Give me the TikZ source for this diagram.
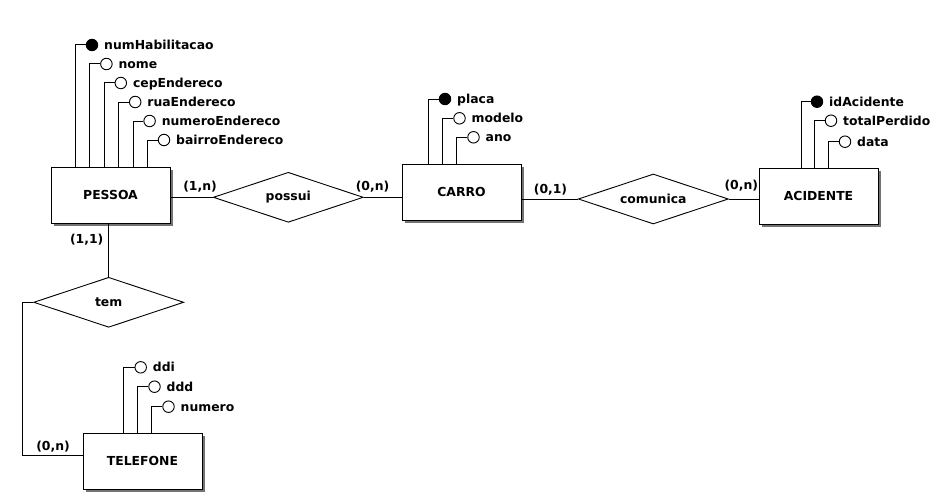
\documentclass[tikz,border=0pt]{standalone}
\usepackage{fontspec}
\setmainfont{DejaVu Sans}
\usetikzlibrary{shapes.geometric,positioning,calc,shadows}
\tikzset{ent/.style={draw,line width=1pt,fill=white,minimum width=119pt,minimum height=56pt,inner sep=0pt,
  drop shadow={shadow xshift=2.5pt,shadow yshift=-2.5pt,fill=black!55,opacity=1}},
rel/.style={diamond,aspect=3,draw,line width=0.9pt,fill=white,minimum width=150pt,minimum height=50pt,inner sep=0pt},
att/.style={circle,draw,line width=0.9pt,fill=white,minimum size=11.5pt,inner sep=0pt},
pk/.style={att,fill=black},
lbl/.style={inner sep=0pt,text height=8.9pt,text depth=0pt},
card/.style={inner sep=0pt}}

\begin{document}
\begin{tikzpicture}[x=1pt,y=-1pt,line width=1pt,font=\fontsize{12.4}{14}\selectfont\bfseries]
\useasboundingbox (0,0) rectangle (940,495);

% entidades e relacionamentos
\node[ent] (pessoa) at (110.5,195) {PESSOA};
\node[ent] (carro) at (461.5,192) {CARRO};
\node[ent] (acidente) at (818.5,196) {ACIDENTE};
\node[ent] (telefone) at (142.5,461) {TELEFONE};
\node[rel] (possui) at (288.3,197.3) {possui};
\node[rel] (comunica) at (653.3,199) {comunica};
\node[rel] (tem) at (108.7,302.3) {tem};

\draw (possui.west) -- (possui.west -| pessoa.east) (possui.east) -- (possui.east -| carro.west);
\draw (comunica.west) -- (comunica.west -| carro.east) (comunica.east) -- (comunica.east -| acidente.west);
\draw (tem.north) -- (tem.north |- pessoa.south);
\draw (tem.west) -- ++(-10.7,0) |- ([yshift=5.3pt]telefone.west);

\node[card] (c1) at (200,186.7) {(1,n)};
\node[card] (c2) at (372.5,186.7) {(0,n)};
\node[card] (c3) at (550.5,190) {(0,1)};
\node[card] (c4) at (741.3,186) {(0,n)};
\node[card] (c5) at (86.7,240) {(1,1)};
\node[card] (c6) at (53,446.7) {(0,n)};

% atributos de PESSOA
\node[pk] (numHab) at (92,45) {};
\node[att] (nome) at (106.4,64) {};
\node[att] (cep) at (120.8,83) {};
\node[att] (rua) at (135.2,102) {};
\node[att] (numEnd) at (149.6,121) {};
\node[att] (bairro) at (164,140) {};
\node[lbl,right=5.5pt of numHab] (numHabT) {numHabilitacao};
\node[lbl,right=5.5pt of nome] (nomeT) {nome};
\node[lbl,right=5.5pt of cep] (cepT) {cepEndereco};
\node[lbl,right=5.5pt of rua] (ruaT) {ruaEndereco};
\node[lbl,right=5.5pt of numEnd] (numEndT) {numeroEndereco};
\node[lbl,right=5.5pt of bairro] (bairroT) {bairroEndereco};
\draw (numHab) -| ($(pessoa.north west)+(25,0)$) (nome) -| ($(pessoa.north west)+(39.4,0)$)
(cep) -| ($(pessoa.north west)+(53.8,0)$) (rua) -| ($(pessoa.north west)+(68.2,0)$)
(numEnd) -| ($(pessoa.north west)+(82.6,0)$) (bairro) -| ($(pessoa.north west)+(97,0)$);

% atributos de CARRO
\node[pk] (placa) at (445,99) {};
\node[att] (modelo) at (459.5,118.3) {};
\node[att] (ano) at (473.5,137.3) {};
\node[lbl,right=5.5pt of placa] (placaT) {placa};
\node[lbl,right=5.5pt of modelo] (modeloT) {modelo};
\node[lbl,right=5.5pt of ano] (anoT) {ano};
\draw (placa) -| ($(carro.north west)+(27.3,0)$) (modelo) -| ($(carro.north west)+(41.3,0)$)
(ano) -| ($(carro.north west)+(55.3,0)$);

% atributos de ACIDENTE
\node[pk] (idAc) at (817,101.7) {};
\node[att] (total) at (831,120.7) {};
\node[att] (data) at (845,141.7) {};
\node[lbl,right=5.5pt of idAc] (idAcT) {idAcidente};
\node[lbl,right=5.5pt of total] (totalT) {totalPerdido};
\node[lbl,right=5.5pt of data] (dataT) {data};
\draw (idAc) -| ($(acidente.north west)+(42.7,0)$) (total) -| ($(acidente.north west)+(56.3,0)$)
(data) -| ($(acidente.north west)+(70.3,0)$);

% atributos de TELEFONE
\node[att] (ddi) at (140.7,367.3) {};
\node[att] (ddd) at (154.5,386.7) {};
\node[att] (numero) at (168.5,406.7) {};
\node[lbl,right=5.5pt of ddi] (ddiT) {ddi};
\node[lbl,right=5.5pt of ddd] (dddT) {ddd};
\node[lbl,right=5.5pt of numero] (numeroT) {numero};
\draw (ddi) -| ($(telefone.north west)+(41.3,0)$) (ddd) -| ($(telefone.north west)+(55.3,0)$)
(numero) -| ($(telefone.north west)+(69.3,0)$);
\end{tikzpicture}
\end{document}
